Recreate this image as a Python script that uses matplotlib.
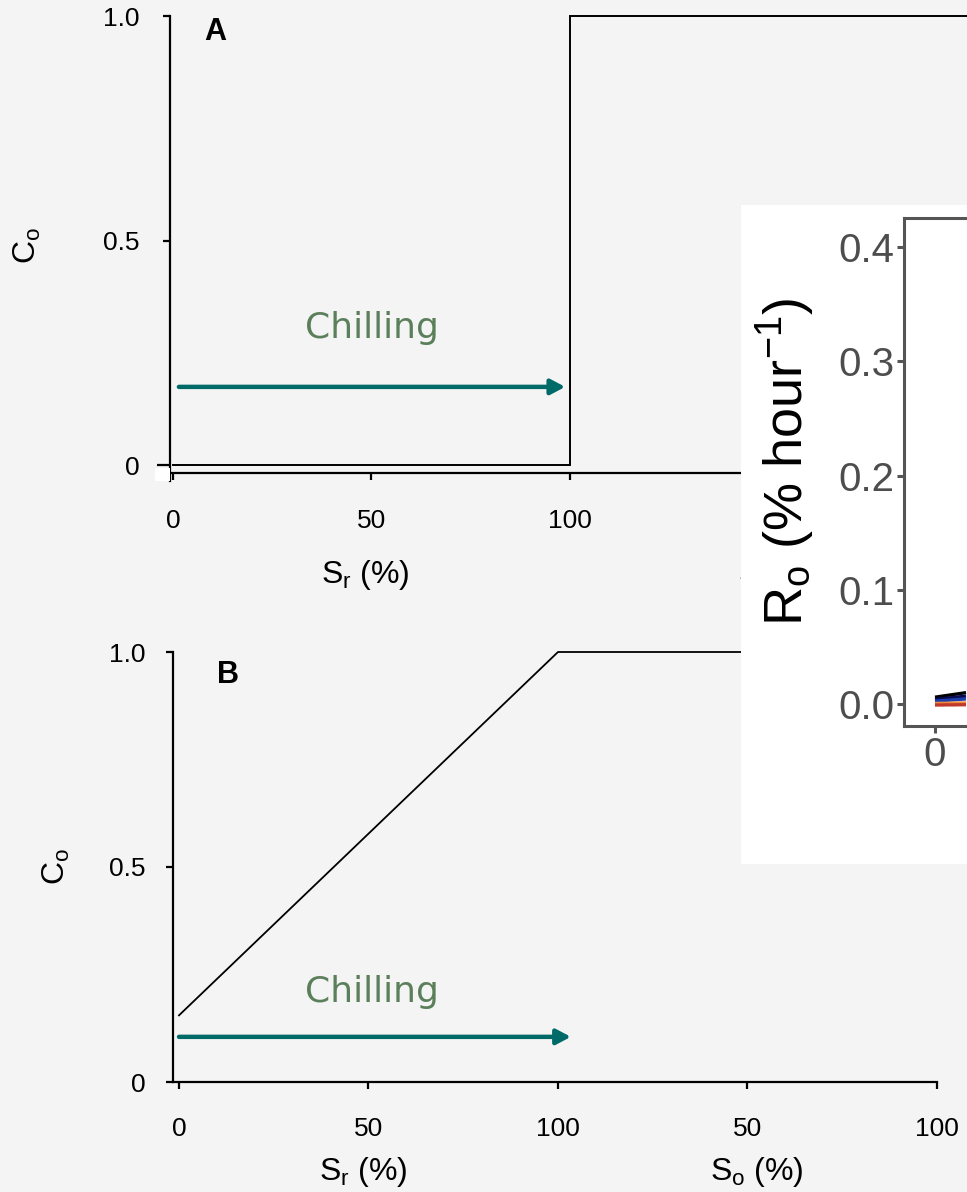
import matplotlib
matplotlib.use("Agg")
from matplotlib import pyplot as plt
from matplotlib.patches import Rectangle
from matplotlib.transforms import Bbox

W, H = 967, 1192
BG = "#f4f4f4"
TEAL = "#006a68"
GREEN = "#5b7f5a"
GREY = "#555555"

plt.rcParams["font.family"] = ["Liberation Sans", "DejaVu Sans"]
plt.rcParams["mathtext.fontset"] = "custom"
plt.rcParams["mathtext.rm"] = "Liberation Sans"
plt.rcParams["mathtext.it"] = "Liberation Sans:italic"
plt.rcParams["mathtext.bf"] = "Liberation Sans:bold"

# ---- data ----

X_TICKS = [0, 50, 100, 150, 200]
X_TICKLABELS = ["0", "50", "100", "50", "100"]
Y_TICKS = [0, 0.5, 1.0]
Y_TICKLABELS = ["0", "0.5", "1.0"]

# panel A: step response
step_x = [0, 100, 100, 200]
step_y = [0, 0, 1, 1]
# panel B: linear ramp then plateau
ramp_x = [0, 100, 200]
ramp_y = [0.155, 1.0, 1.0]

# chilling arrows: start, tip, level
chill_a = [1.5, 98.8, 0.174]
chill_b = [0.0, 103.4, 0.105]

# inset (cropped R_o panel)
INSET_YTICKS = [0.0, 0.1, 0.2, 0.3, 0.4]
inset_x = [0, 1, 2, 3, 4, 5]
inset_series = {
    "#000000": [0.006, 0.0068, 0.0076, 0.0084, 0.0092, 0.010],
    "#0a0a50": [0.004, 0.0046, 0.0052, 0.0058, 0.0064, 0.007],
    "#1d3fae": [0.0025, 0.0029, 0.0033, 0.0037, 0.0041, 0.0045],
    "#f08a3c": [0.0005, 0.0006, 0.0007, 0.0008, 0.0009, 0.001],
    "#c0392b": [-0.0008, -0.0008, -0.0007, -0.0007, -0.0006, -0.0006],
}

fig = plt.figure(figsize=(W / 100, H / 100), dpi=100, facecolor=BG)


def px_axes(left, top, right, bottom, **kw):
    return fig.add_axes([left / W, 1 - bottom / H, (right - left) / W, (bottom - top) / H], **kw)


def px_text(x, y, s, **kw):
    return fig.text(x / W, 1 - y / H, s, **kw)


def style_panel(ax, xlim, ylim, xlabels, xpad, ypad):
    ax.set_facecolor("none")
    for side in ("top", "right"):
        ax.spines[side].set_visible(False)
    for side in ("left", "bottom"):
        ax.spines[side].set_linewidth(1.6)
        ax.spines[side].set_color("black")
    ax.set_xlim(*xlim)
    ax.set_ylim(*ylim)
    ax.set_xticks(X_TICKS, xlabels)
    ax.set_yticks(Y_TICKS, Y_TICKLABELS)
    ax.tick_params(axis="x", length=5, width=1.6, pad=xpad, labelsize=19)
    ax.tick_params(axis="y", length=5, width=1.6, pad=ypad, labelsize=19)


ARROW = "-|>,head_length=0.85,head_width=0.45"

# ---- Panel A ----

axA = px_axes(170, 13, 967, 473)
# right half of panel A sits under the pasted inset: its tick labels are hidden there
style_panel(axA, (-0.74, 196.5), (-0.0178, 1.0067), X_TICKLABELS[:3] + ["", ""], xpad=21, ypad=17)
axA.spines["left"].set_bounds(-0.035, 1.0)
axA.yaxis.get_major_ticks()[0].tick1line.set_markersize(9.5)
axA.plot(step_x, step_y, color="black", lw=1.4, clip_on=False, solid_joinstyle="miter")
axA.annotate("", xy=(chill_a[1], chill_a[2]), xytext=(chill_a[0], chill_a[2]),
             arrowprops=dict(arrowstyle=ARROW, color=TEAL, lw=3.2, shrinkA=0, shrinkB=0))
axA.text(50, 0.305, "Chilling", color=GREEN, fontsize=26, family="DejaVu Sans", ha="center", va="center")
axA.text(8, 0.965, "A", fontsize=22, fontweight="bold", ha="left", va="center")

px_text(27, 246, r"C$_\mathrm{o}$", fontsize=23, rotation=90, ha="center", va="center")
px_text(365, 575, r"S$_\mathrm{r}$ (%)", fontsize=23, ha="center", va="center")
so_a = px_text(785, 575, r"S$_\mathrm{o}$ (%)", fontsize=23, ha="center", va="center")
so_a.set_clip_box(Bbox([[0, 0], [741, H]]))
so_a.set_clip_on(True)
fig.patches.append(Rectangle((155 / W, 1 - 481 / H), 15 / W, 13 / H, transform=fig.transFigure,
                             facecolor="white", edgecolor="none", zorder=2))

# ---- Panel B ----

axB = px_axes(173, 652, 937, 1082)
style_panel(axB, (-1.58, 200), (0, 1.0), X_TICKLABELS, xpad=20, ypad=15)
axB.plot(ramp_x, ramp_y, color="black", lw=1.3, clip_on=False)
axB.annotate("", xy=(chill_b[1], chill_b[2]), xytext=(chill_b[0], chill_b[2]),
             arrowprops=dict(arrowstyle=ARROW, color=TEAL, lw=3.2, shrinkA=0, shrinkB=0))
axB.text(51, 0.21, "Chilling", color=GREEN, fontsize=26, family="DejaVu Sans", ha="center", va="center")
axB.text(10, 0.947, "B", fontsize=22, fontweight="bold", ha="left", va="center")

px_text(56, 867, r"C$_\mathrm{o}$", fontsize=23, rotation=90, ha="center", va="center")
px_text(363, 1172, r"S$_\mathrm{r}$ (%)", fontsize=23, ha="center", va="center")
px_text(757, 1172, r"S$_\mathrm{o}$ (%)", fontsize=23, ha="center", va="center")

# ---- Inset (pasted R_o panel) ----

ax_bg = px_axes(741, 205, 967, 864, zorder=4)
ax_bg.set_facecolor("white")
ax_bg.set_xticks([])
ax_bg.set_yticks([])
for s in ax_bg.spines.values():
    s.set_visible(False)

axI = px_axes(904, 218, 967, 726, zorder=5)
axI.set_facecolor("white")
axI.spines["right"].set_visible(False)
for side in ("left", "top", "bottom"):
    axI.spines[side].set_color(GREY)
    axI.spines[side].set_linewidth(2.2)
for color, ys in inset_series.items():
    axI.plot(inset_x, ys, color=color, lw=2.4, solid_capstyle="butt")
axI.set_xlim(-5, 5.16)
axI.set_ylim(-0.0192, 0.4254)
axI.set_xticks([0], ["0"])
axI.set_yticks(INSET_YTICKS, [f"{v:.1f}" for v in INSET_YTICKS])
axI.tick_params(colors=GREY, labelcolor="#4d4d4d", length=5, width=2.2, labelsize=29, pad=2)

px_text(786, 462, r"R$_\mathrm{o}$ (% hour$^{-1}$)", fontsize=39, rotation=90,
        ha="center", va="center", zorder=6)

fig.savefig("out.png", dpi=100, facecolor=BG)
